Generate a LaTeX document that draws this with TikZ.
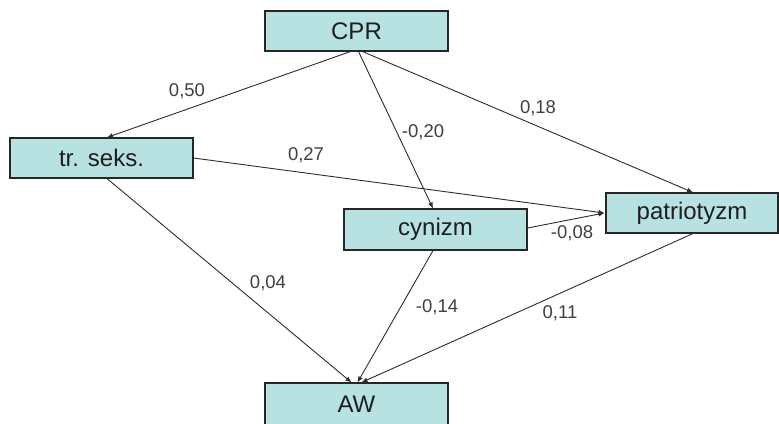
\documentclass[tikz,border=0pt]{standalone}
\usepackage{fontspec}
\setmainfont{Liberation Sans}
\usetikzlibrary{arrows.meta}
\definecolor{boxfill}{RGB}{184,225,225}
\definecolor{linec}{RGB}{45,45,45}
\definecolor{txt}{RGB}{30,30,30}
\tikzset{
  varbox/.style={draw=black!85, line width=1.1pt, fill=boxfill, minimum width=183pt, minimum height=40pt, inner sep=0pt, text=txt, font=\fontsize{24}{28}\selectfont},
  arr/.style={draw=linec, line width=0.9pt, -{Latex[length=6pt,width=5pt]}},
  coef/.style={text=txt!85, font=\fontsize{18.5}{22}\selectfont, inner sep=1pt}
}
\begin{document}
\begin{tikzpicture}[x=1pt,y=-1pt]
\clip (0,0) rectangle (779,423);
\useasboundingbox (0,0) rectangle (779,423);
\fill[white] (0,0) rectangle (779,423);
\node[varbox] (CPR) at (356.5,31) {CPR};
\node[varbox] (TR) at (101.5,158) {tr. seks.};
\node[varbox, minimum height=41pt] (CY) at (435.5,229.5) {cynizm};
\node[varbox, minimum width=172pt] (PA) at (692,213) {patriotyzm};
\node[varbox, minimum height=42pt] (AW) at (356.5,404) {AW};
% connectors
\draw[arr] ([xshift=-6pt]CPR.south) -- ([xshift=5.5pt]TR.north);
\draw[arr] ([xshift=2pt]CPR.south) -- ([xshift=-2.5pt]CY.north);
\draw[arr] ([xshift=6pt]CPR.south) -- ([xshift=1pt]PA.north);
\draw[arr] (TR.east) -- ([xshift=-1pt]PA.west);
\draw[arr] ([yshift=1.5pt]CY.east) -- ([xshift=-1pt]PA.west);
\draw[arr] ([xshift=5.5pt]TR.south) -- ([xshift=-5pt]AW.north);
\draw[arr] ([xshift=-2.5pt]CY.south) -- ([xshift=1pt]AW.north);
\draw[arr] ([xshift=1pt]PA.south) -- ([xshift=5pt]AW.north);
% coefficients
\node[coef] (c1) at (187,91) {0,50};
\node[coef] (c2) at (306,155) {0,27};
\node[coef] (c3) at (423,132) {-0,20};
\node[coef] (c4) at (538,108) {0,18};
\node[coef] (c5) at (572,233) {-0,08};
\node[coef] (c6) at (268,283) {0,04};
\node[coef] (c7) at (437,307) {-0,14};
\node[coef] (c8) at (560,313) {0,11};
\end{tikzpicture}
\end{document}
